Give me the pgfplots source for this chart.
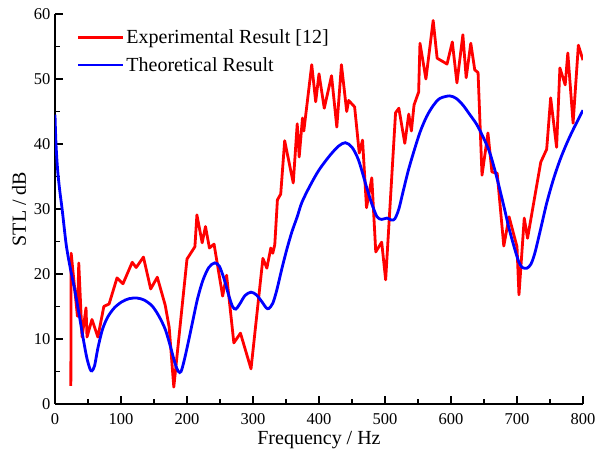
\documentclass[border=0pt]{standalone}
\usepackage{fontspec}
\setmainfont{Liberation Serif}
\usepackage{pgfplots}
\pgfplotsset{compat=1.18}
\begin{document}
\begin{tikzpicture}
\useasboundingbox (-55pt,-48pt) rectangle (540pt,404pt);
\begin{axis}[
 at={(0pt,0pt)}, anchor=south west,
 scale only axis, width=528pt, height=390pt,
 xmin=0, xmax=800, ymin=0, ymax=60,
 axis x line=bottom, axis y line=left,
 axis line style={-, line width=1.2pt},
 xtick={0,100,...,800}, ytick={0,10,...,60},
 minor x tick num=1, minor y tick num=1,
 xtick align=inside, ytick align=inside,
 major tick length=8pt, minor tick length=5pt,
 every tick/.style={black, line width=1.1pt},
 ticklabel style={font=\fontsize{16.5}{18}\selectfont},
 xticklabel style={yshift=-6pt},
 yticklabel style={xshift=-1pt},
 /pgf/number format/assume math mode=true,
 xlabel={Frequency / Hz}, ylabel={STL / dB},
 label style={font=\fontsize{20}{24}\selectfont},
 ylabel style={yshift=1pt},
 legend cell align=left,
 legend style={draw=none, fill=none, at={(0.035,0.97)}, anchor=north west,
   font=\fontsize{20}{24}\selectfont, row sep=8pt},
 legend image code/.code={\draw[#1] (0pt,0pt) -- (45pt,0pt);},
]
\addplot[red, line width=2.8pt, line join=round] coordinates {
(24,2.8) (24.5,23.2) (34,13.5) (36,21.7) (41,10.3) (47,14.8) (48.5,10.3)
(56,13) (65,10.3) (74,15) (82,15.4) (94,19.4) (103,18.5) (117,21.8) (123,21)
(134,22.6) (145,17.7) (155,19.5) (167,15.2) (173,11.8) (180,2.6) (200,22.3)
(212,24.2) (215,29.1) (223,24.8) (228,27.3) (234,24) (241,24.6) (254,16.6)
(260,19.8) (271,9.4) (281,10.9) (297,5.4) (315,22.4) (321,20.9) (327,24.0)
(330,23.2) (333,24.5) (337,31.4) (342,32.3) (348,40.5) (361,34) (367,43.1)
(370,38) (375,44) (377,42) (389,52.2) (395,46.5) (400,50.8) (408,45.5)
(419,50.5) (427,42.6) (434,52.2) (442,45) (445,46.7) (454,45.7) (461,38.6)
(466,40.6) (472,30.2) (480,34.8) (486,23.4) (495,24.9) (501,19.1) (516,44.8)
(521,45.5) (530,40.1) (536,44.6) (540,42) (544,46) (551,48) (553,55.5)
(562,50) (573,59) (579,53.2) (594,52.3) (602,55.7) (609,49.4) (618,56.8)
(623,50.2) (630,55.5) (636,51.4) (641,51) (647,35.2) (656,41.7) (662,35.7)
(670,35.5) (680,24.3) (688,28.8) (700,24.2) (703,16.8) (711,28.6) (716,25.5)
(736,37.2) (745,39.2) (751,47.1) (760,39.5) (765,51.7) (773,49.1) (777,54)
(785,43.2) (793,55.2) (800,52.9)
};
\addlegendentry{Experimental Result [12]}
\addplot[blue, line width=2.8pt, smooth] coordinates {
(0,44.5) (1.5,40) (4,36) (7,33) (11,29.8) (17,24.5) (23,21) (30,17.5)
(37,13.5) (42,10.5) (48,7.2) (53,5.4) (56,5.1) (60,5.9) (65,8.6) (72,11.5)
(80,13.4) (90,14.8) (101,15.7) (112,16.2) (124,16.3) (135,16) (147,15.1)
(157,13.6) (167,11.5) (175,8.8) (182,6.2) (187,5) (191,5) (196,6.8)
(203,10) (209,12.9) (216,16.2) (224,19) (233,21) (242,21.7) (249,21.2)
(256,19.3) (263,16.8) (269,15) (274,14.6) (280,15.4) (288,16.7) (297,17.2)
(305,16.8) (313,15.8) (320,14.8) (324,14.7) (330,15.5) (336,17.5) (343,20.5)
(351,23.7) (359,26.5) (367,28.8) (374,31) (386,33.5) (400,36) (417,38.3)
(430,39.7) (440,40.2) (450,39.5) (460,37.5) (472,33.4) (480,30.8) (488,28.8)
(495,28.4) (503,28.6) (510,28.3) (515,28.5) (521,30) (527,32.5) (535,35.8)
(543,38.6) (553,41.8) (563,44.2) (573,45.9) (583,47) (598,47.4) (608,47)
(618,46) (628,44.6) (639,43) (649,41) (659,38.6) (669,35) (679,30.9)
(688,27) (697,23.7) (703,21.8) (708,21) (715,20.9) (721,21.5) (727,23.2)
(736,27) (745,30.9) (755,34.5) (765,37.5) (775,40) (785,42.2) (800,45.2)
};
\addlegendentry{Theoretical Result}
\end{axis}
\end{tikzpicture}
\end{document}
